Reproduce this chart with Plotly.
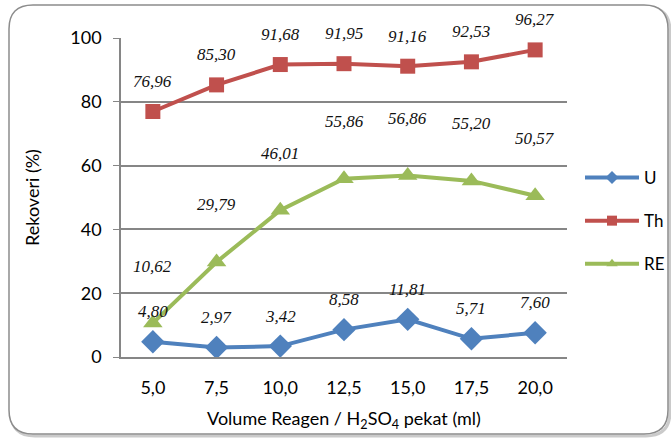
import plotly.graph_objects as go

categories = ["5,0", "7,5", "10,0", "12,5", "15,0", "17,5", "20,0"]
u_vals = [4.80, 2.97, 3.42, 8.58, 11.81, 5.71, 7.60]
th_vals = [76.96, 85.30, 91.68, 91.95, 91.16, 92.53, 96.27]
re_vals = [10.62, 29.79, 46.01, 55.86, 56.86, 55.20, 50.57]
y_ticks = [0, 20, 40, 60, 80, 100]

W, H = 671, 439
ML, MR, MT, MB = 121, 2, 38, 82
PLOT_R = 567
PW, PH = W - ML - MR, H - MT - MB
XDOM = (PLOT_R - ML) / PW

def fmt(v):
    return f"{v:.2f}".replace(".", ",")

fig = go.Figure()

series = [
    ("U", u_vals, "#4F81BD", "diamond", 18, 30, 10),
    ("Th", th_vals, "#C0504D", "square", 15, 30, 10),
    ("RE", re_vals, "#9BBB59", "triangle-up", 17, 57, 10),
]

for name, vals, col, sym, ms, _, lms in series:
    fig.add_trace(go.Scatter(
        x=categories, y=vals, name=name, mode="lines+markers",
        line=dict(color=col, width=4),
        marker=dict(symbol=sym, size=ms, color=col),
        showlegend=False,
    ))
for name, vals, col, sym, ms, _, lms in series:
    fig.add_trace(go.Scatter(
        x=[None], y=[None], name=name, mode="lines+markers",
        line=dict(color=col, width=4),
        marker=dict(symbol=sym, size=lms, color=col),
        legendgroup=name, showlegend=True,
    ))

annotations = []
for name, vals, col, sym, ms, shift, lms in series:
    for c, v in zip(categories, vals):
        annotations.append(dict(
            x=c, y=v, text=fmt(v), showarrow=False, yshift=shift,
            font=dict(family="Liberation Serif", size=17, color="#111111", style="italic"),
        ))

def px2paper(px, py):
    return (px - ML) / PW, (H - MB - py) / PH

def rounded_path(x0, y0, x1, y1, r):
    def P(x, y):
        a, b = px2paper(x, y)
        return f"{a:.5f},{b:.5f}"
    d = f"M {P(x0 + r, y0)} L {P(x1 - r, y0)} Q {P(x1, y0)} {P(x1, y0 + r)} "
    d += f"L {P(x1, y1 - r)} Q {P(x1, y1)} {P(x1 - r, y1)} "
    d += f"L {P(x0 + r, y1)} Q {P(x0, y1)} {P(x0, y1 - r)} "
    d += f"L {P(x0, y0 + r)} Q {P(x0, y0)} {P(x0 + r, y0)} Z"
    return d

shapes = [
    dict(type="path", xref="paper", yref="paper", path=rounded_path(11, 7, 670, 436, 24),
         line=dict(color="rgba(150,150,150,0.5)", width=3), layer="below"),
    dict(type="path", xref="paper", yref="paper", path=rounded_path(9, 5, 668, 434, 24),
         line=dict(color="#8c8c8c", width=1.5), fillcolor="white", layer="below"),
]

lx, ly = px2paper(580, 160)

fig.update_layout(
    width=W, height=H,
    margin=dict(l=ML, r=MR, t=MT, b=MB, autoexpand=False),
    paper_bgcolor="white", plot_bgcolor="white",
    font=dict(family="Lato", size=18, color="#000000"),
    showlegend=True,
    legend=dict(x=lx, y=ly, xanchor="left", yanchor="top",
                tracegroupgap=18, itemwidth=54, font=dict(size=17),
                bgcolor="rgba(0,0,0,0)"),
    annotations=annotations,
    shapes=shapes,
    xaxis=dict(
        type="category", domain=[0, XDOM], showgrid=False, showline=True,
        linecolor="#868686", linewidth=1.5,
        ticks="", tickfont=dict(size=18), range=[-0.5, 6.5], ticklabelstandoff=14,
        title=dict(text="Volume Reagen / H<sub>2</sub>SO<sub>4</sub> pekat (ml)",
                   font=dict(size=18), standoff=15),
        zeroline=False,
    ),
    yaxis=dict(
        range=[0, 100], tickvals=y_ticks, showgrid=True, gridcolor="#868686", gridwidth=1.5,
        showline=True, linecolor="#868686", linewidth=1.5, ticks="outside", ticklen=6,
        tickcolor="#868686", tickfont=dict(size=18), zeroline=False, ticklabelstandoff=8,
        title=dict(text="Rekoveri (%)", font=dict(size=18), standoff=26),
    ),
)

fig.write_html("out.html")
